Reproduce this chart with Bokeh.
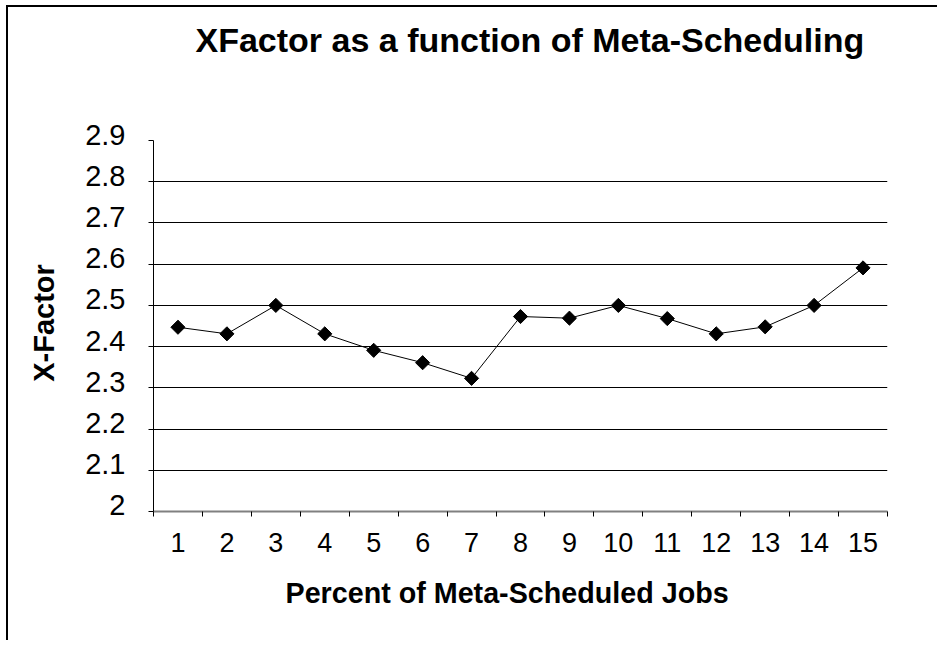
import math
from bokeh.plotting import figure
from bokeh.models import Range1d, LinearAxis, FixedTicker, Grid, Title
from bokeh.embed import file_html
from bokeh.resources import INLINE

# ---- data ----
title_text = "XFactor as a function of Meta-Scheduling"
x_axis_title = "Percent of Meta-Scheduled Jobs"
y_axis_title = "X-Factor"
percent = [1, 2, 3, 4, 5, 6, 7, 8, 9, 10, 11, 12, 13, 14, 15]
percent_labels = ["1", "2", "3", "4", "5", "6", "7", "8", "9", "10", "11", "12", "13", "14", "15"]
xfactor = [2.447, 2.431, 2.500, 2.431, 2.391, 2.361, 2.323, 2.473, 2.469, 2.500, 2.468, 2.431, 2.448, 2.500, 2.591]
y_ticks = [2.0, 2.1, 2.2, 2.3, 2.4, 2.5, 2.6, 2.7, 2.8, 2.9]
y_tick_labels = ["2", "2.1", "2.2", "2.3", "2.4", "2.5", "2.6", "2.7", "2.8", "2.9"]
grid_values = [2.1, 2.2, 2.3, 2.4, 2.5, 2.6, 2.7, 2.8]

FONT = "Liberation Sans"
W, H = 931, 635

y_lo, y_hi = y_ticks[0], y_ticks[-1]
x_lo, x_hi = percent[0] - 0.5, percent[-1] + 0.5
shift = 0.0146  # value labels sit ~6px above their ticks in the original

p = figure(width=W, height=H, output_backend="svg", toolbar_location=None,
           x_range=Range1d(x_lo, x_hi), y_range=Range1d(y_lo, y_hi + shift),
           x_axis_location=None, y_axis_location=None,
           min_border_left=145, min_border_right=52, min_border_top=127, min_border_bottom=131)
p.outline_line_color = None
p.background_fill_color = "white"
p.border_fill_color = "white"
p.margin = (5, 0, 0, 6)
p.styles = {"border-left": "2px solid black", "border-top": "2px solid black"}
for g in p.grid:
    g.visible = False

# horizontal gridlines
p.add_layout(Grid(dimension=1, ticker=FixedTicker(ticks=grid_values),
                  grid_line_color="black", grid_line_width=1))

# y axis: line and outside ticks only
yaxis_ticks = LinearAxis(ticker=FixedTicker(ticks=[], minor_ticks=y_ticks),
                         bounds=(y_lo, y_hi),
                         major_tick_out=0, major_tick_in=0, minor_tick_out=5, minor_tick_in=0,
                         axis_line_color="black", axis_line_width=1,
                         minor_tick_line_color="black", major_label_standoff=0)
p.add_layout(yaxis_ticks, "left")

# y axis value labels (raised slightly, as in the original)
p.extra_y_ranges = {"ylab": Range1d(y_lo - shift, y_hi)}
yaxis_labels = LinearAxis(y_range_name="ylab", ticker=FixedTicker(ticks=y_ticks),
                          major_label_overrides=dict(zip(y_ticks, y_tick_labels)),
                          axis_line_color=None, major_tick_line_color=None,
                          minor_tick_line_color=None,
                          major_tick_out=0, major_tick_in=0, minor_tick_out=0, minor_tick_in=0,
                          major_label_standoff=23,
                          major_label_text_font=FONT, major_label_text_font_size="29px",
                          major_label_text_color="black",
                          axis_label=y_axis_title, axis_label_text_font=FONT,
                          axis_label_text_font_size="29px", axis_label_text_font_style="bold",
                          axis_label_text_color="black", axis_label_standoff=22)
p.add_layout(yaxis_labels, "left")

# x axis
boundaries = [v - 0.5 for v in percent] + [percent[-1] + 0.5]
xaxis = LinearAxis(ticker=FixedTicker(ticks=percent, minor_ticks=boundaries),
                   major_label_overrides=dict(zip(percent, percent_labels)),
                   major_tick_out=0, major_tick_in=0,
                   minor_tick_out=5, minor_tick_in=0, minor_tick_line_color="black",
                   axis_line_color="#808080", axis_line_width=2,
                   major_label_standoff=16,
                   major_label_text_font=FONT, major_label_text_font_size="27px",
                   major_label_text_color="black")
p.add_layout(xaxis, "below")

# x axis title (a left-aligned title below, to match its horizontal position)
p.add_layout(Title(text=x_axis_title, align="left", offset=132, standoff=44,
                   vertical_align="top", text_font=FONT, text_font_size="28.7px",
                   text_font_style="bold", text_color="black"), "below")

# data
p.line(percent, xfactor, line_color="black", line_width=1)
p.scatter(percent, xfactor, marker="square", size=10, angle=math.pi / 4,
          fill_color="black", line_color="black")

# chart title: a spacer title next to the frame, then the real title above it
p.add_layout(Title(text=" ", text_font_size="1px", standoff=73), "above")
p.add_layout(Title(text=title_text, align="left", offset=42, standoff=0,
                   vertical_align="bottom", text_font=FONT, text_font_size="34px",
                   text_font_style="bold", text_color="black"), "above")

open("out.html", "w").write(file_html(p, INLINE))
